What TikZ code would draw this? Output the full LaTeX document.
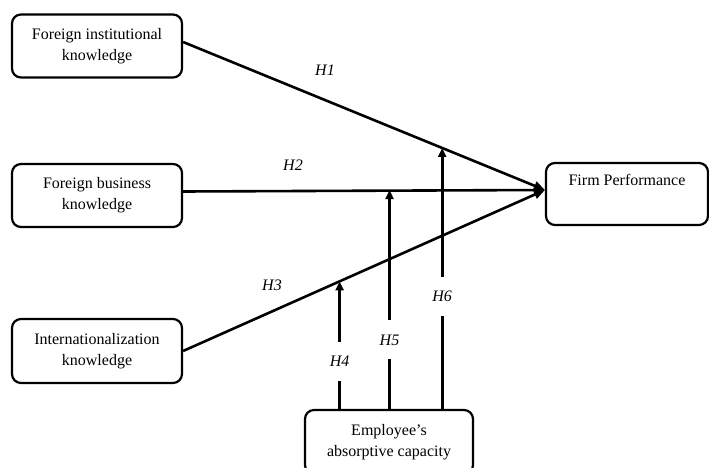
\documentclass[tikz,border=0pt]{standalone}
\usepackage{fontspec}
\setmainfont{Liberation Serif}
\usetikzlibrary{arrows.meta, calc}

\begin{document}
\begin{tikzpicture}[
    x=1pt, y=-1pt, font=\fontsize{16}{21}\selectfont,
    box/.style={draw, line width=2.2pt, rounded corners=9pt, align=center,
                inner sep=0pt},
    path/.style={-{Triangle[length=11pt, width=9pt]}, line width=2.6pt},
    mod/.style={-{Triangle[length=9pt, width=8pt]}, line width=3pt},
    hyp/.style={font=\fontsize{16}{21}\selectfont\itshape, inner sep=1pt},
    gap/.style={hyp, fill=white, minimum height=39pt, inner xsep=2pt},
]
\useasboundingbox (0,0) rectangle (709,468);

% ===================== Constructs =====================
\node[box, minimum width=170pt, minimum height=63pt] (fik) at (97,46)
      {Foreign institutional\\knowledge};
\node[box, minimum width=170pt, minimum height=63pt] (fbk) at (97,195.5)
      {Foreign business\\knowledge};
\node[box, minimum width=170pt, minimum height=64pt] (ik) at (97,351)
      {Internationalization\\knowledge};
\node[box, minimum width=162pt, minimum height=62pt] (fp) at (627,194)
      {Firm Performance\\\strut};
\node[box, minimum width=168pt, minimum height=64pt] (emp) at (389,442)
      {Employee's\\absorptive capacity};

% ===================== Direct effects =====================
\coordinate (hub) at ([yshift=4pt]fp.west);
\coordinate (s1) at ([yshift=4pt]fik.east);
\coordinate (s2) at ([yshift=4pt]fbk.east);
\coordinate (s3) at (ik.east);
\draw[path] (s1) -- (hub);
\draw[path] (s2) -- (hub);
\draw[path] (s3) -- (hub);
\node[hyp] (h1) at (325,70) {H1};
\node[hyp] (h2) at (293,165) {H2};
\node[hyp] (h3) at (272,285) {H3};

% ===================== Moderation =====================
\coordinate (m4) at ($(s3)!0.4325!(hub)$);
\coordinate (m5) at ([xshift=0.5pt]emp.north |- hub);
\coordinate (m6) at ($(s1)!0.716!(hub)$);
\draw[mod] (emp.north -| m4) -- node[gap, pos=0.37] (h4) {H4} (m4);
\draw[mod] (emp.north -| m5) -- node[gap, pos=0.315] (h5) {H5} (m5);
\draw[mod] (emp.north -| m6) -- node[gap, pos=0.43] (h6) {H6} (m6);

\end{tikzpicture}
\end{document}
